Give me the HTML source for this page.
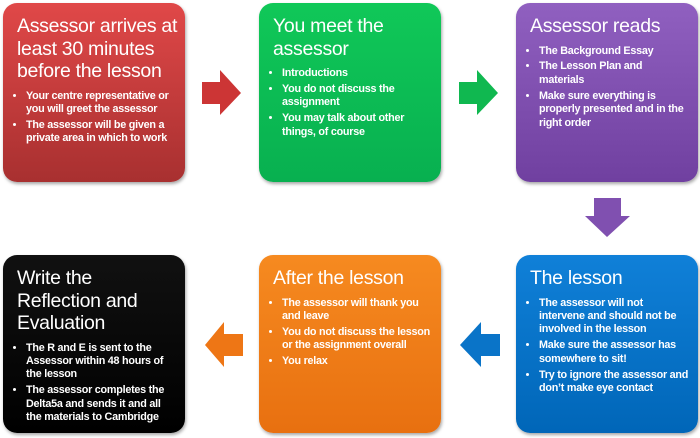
<!DOCTYPE html>
<html><head><meta charset="utf-8"><style>
body{margin:0;width:700px;height:438px;background:#fff;position:relative;overflow:hidden;font-family:"Liberation Sans",sans-serif;}
.b{position:absolute;width:182px;border-radius:14px;color:#fff;box-sizing:border-box;padding:12px 6px 0 14px;box-shadow:1px 2px 3px rgba(0,0,0,.35);}
.t{font-size:19.5px;line-height:22.5px;letter-spacing:-0.3px;margin-bottom:7px;}
ul{margin:0;padding:0 0 0 9px;font-weight:bold;font-size:10.8px;line-height:13.4px;letter-spacing:-0.25px;}
li{margin-bottom:2.5px;white-space:nowrap;}
svg{position:absolute;}
</style></head><body>
<div class="b" style="left:3px;top:3px;height:179px;background:linear-gradient(#e04848,#a83030);"><div class="t">Assessor arrives at<br>least 30 minutes<br>before the lesson</div><ul><li>Your centre representative  or<br>you will greet the assessor</li><li>The assessor will be given a<br>private area in which to work</li></ul></div>
<div class="b" style="left:259px;top:3px;height:179px;background:linear-gradient(#10c858,#08b050);"><div class="t">You meet the<br>assessor</div><ul><li>Introductions</li><li>You do not discuss the<br>assignment</li><li>You may talk about other<br>things, of course</li></ul></div>
<div class="b" style="left:516px;top:3px;height:179px;background:linear-gradient(#9060c0,#7040a0);"><div class="t">Assessor reads</div><ul><li>The Background Essay</li><li>The Lesson Plan and<br>materials</li><li>Make sure everything is<br>properly presented and in the<br>right order</li></ul></div>
<div class="b" style="left:3px;top:255px;height:178px;background:linear-gradient(#111,#000);"><div class="t">Write the<br>Reflection and<br>Evaluation</div><ul><li>The R and E is sent to the<br>Assessor within 48 hours of<br>the lesson</li><li>The assessor completes the<br>Delta5a and sends it and all<br>the materials to Cambridge</li></ul></div>
<div class="b" style="left:259px;top:255px;height:178px;background:linear-gradient(#f68a20,#e87010);"><div class="t">After the lesson</div><ul><li>The assessor will thank you<br>and leave</li><li>You do not discuss the lesson<br>or the assignment overall</li><li>You relax</li></ul></div>
<div class="b" style="left:516px;top:255px;height:178px;background:linear-gradient(#1080d8,#0066b8);"><div class="t">The lesson</div><ul><li>The assessor will not<br>intervene and should not be<br>involved in the lesson</li><li>Make sure the assessor has<br>somewhere to sit!</li><li>Try to ignore the assessor and<br>don’t make eye contact</li></ul></div>
<svg width="700" height="438" style="left:0;top:0">
<polygon points="202,82 220,82 220,70 241,93 220,115 220,104 202,104" fill="#cc3535"/>
<polygon points="459,82 477,82 477,70 498,93 477,115 477,104 459,104" fill="#10b850"/>
<polygon points="594,198 621,198 621,216 630,216 607,237 585,216 594,216" fill="#8050b0"/>
<polygon points="500,334 481,334 481,322 460,345 481,367 481,356 500,356" fill="#0a74c8"/>
<polygon points="243,334 224,334 224,322 205,345 224,367 224,356 243,356" fill="#ee7615"/>
</svg>
</body></html>
